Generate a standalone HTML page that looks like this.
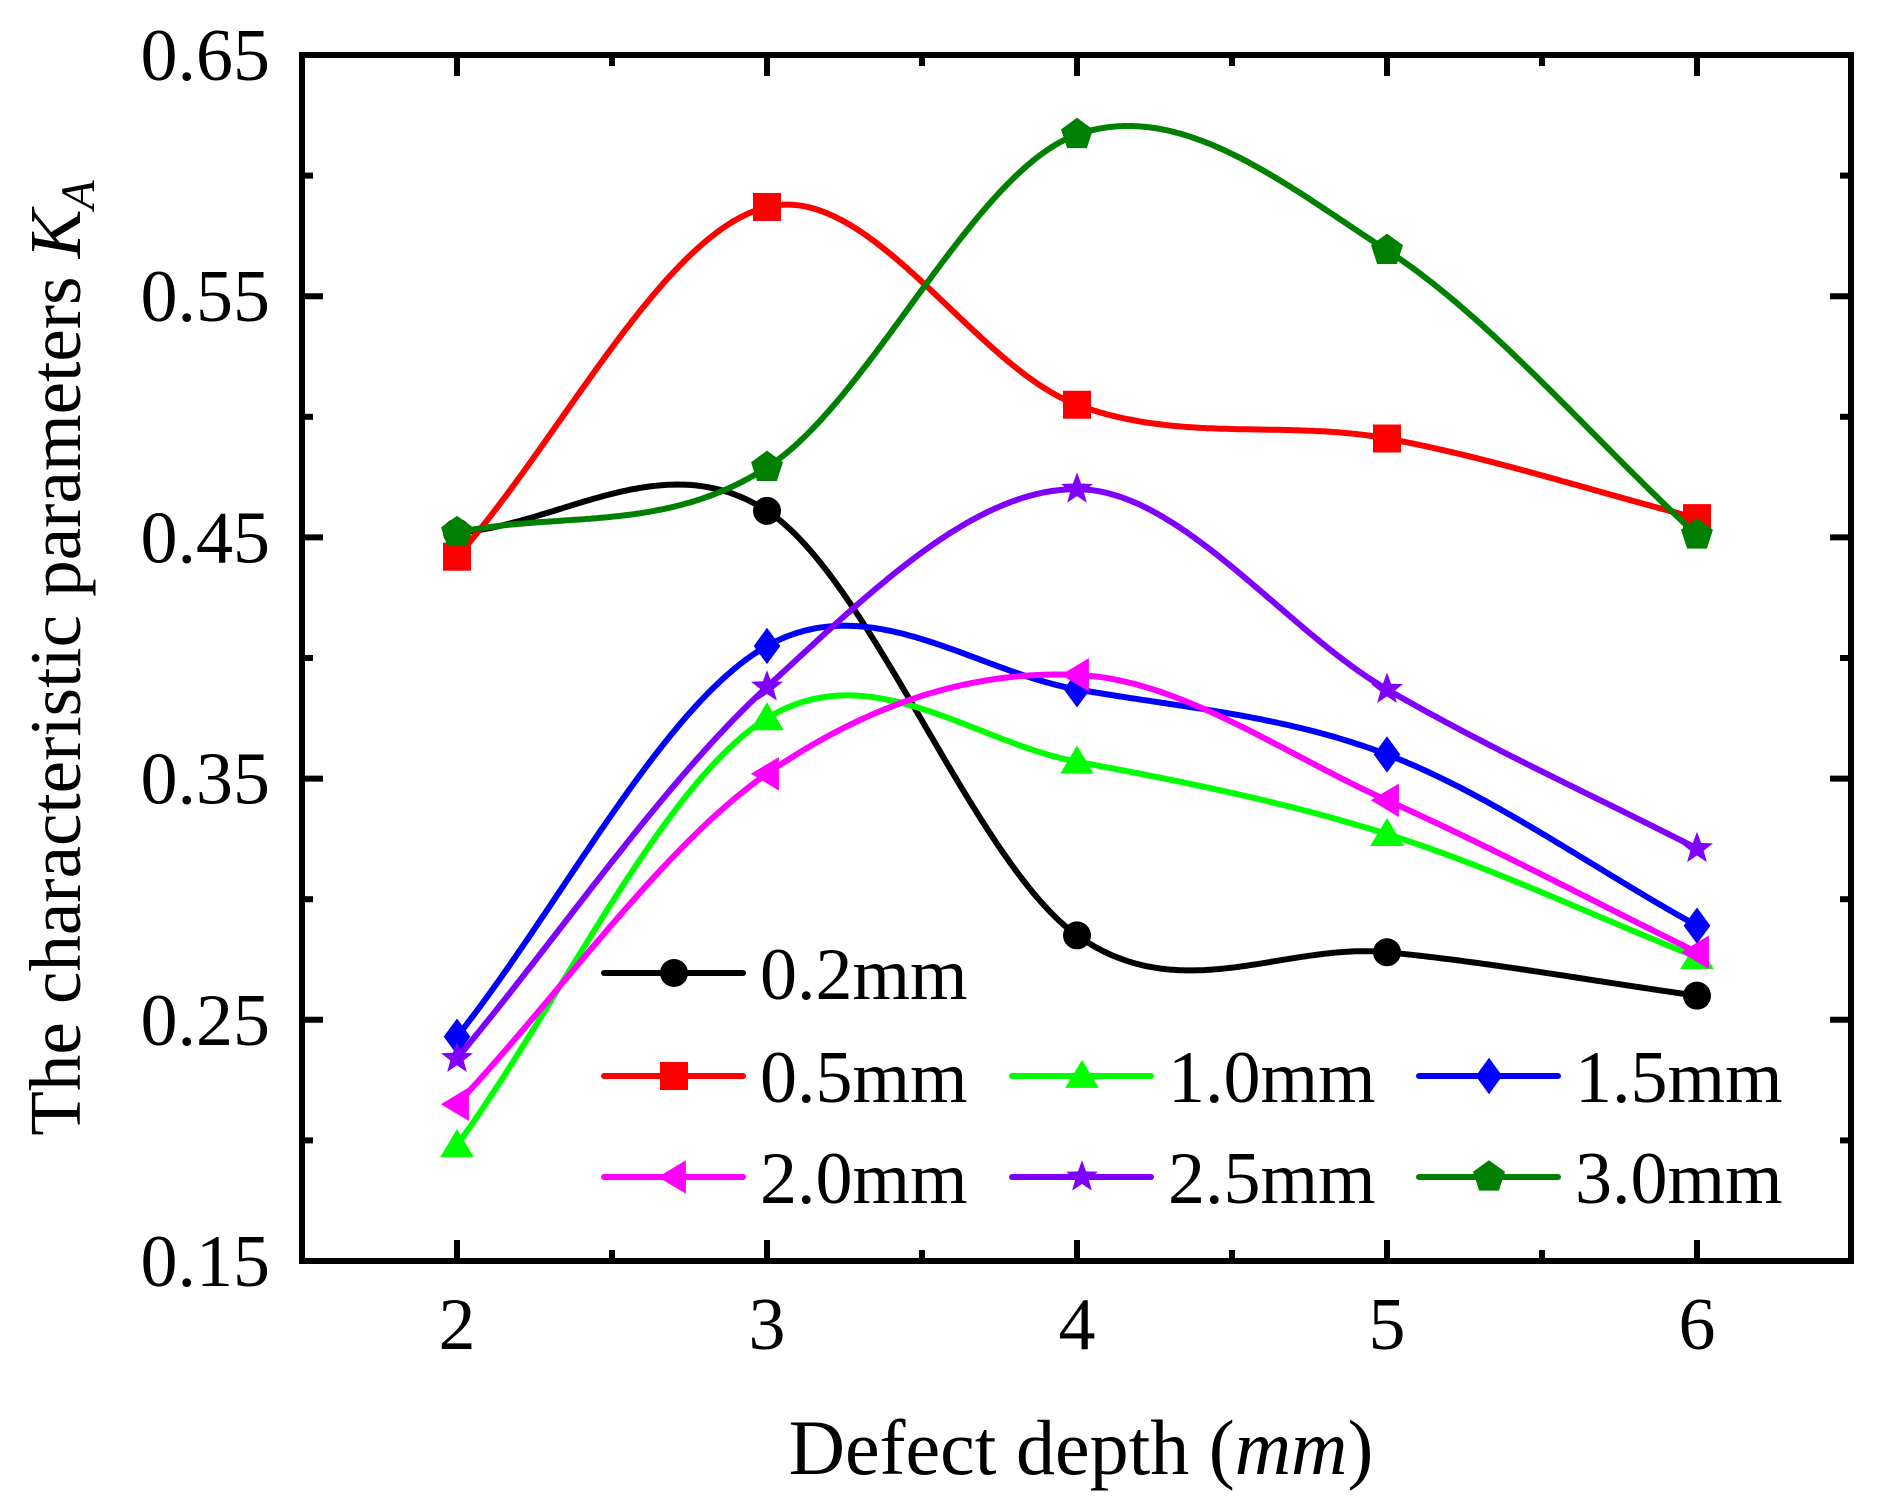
<!DOCTYPE html>
<html><head><meta charset="utf-8">
<style>
html,body{margin:0;padding:0;background:#fff;}
svg{display:block;font-family:"Liberation Serif","Times New Roman",serif;}
</style></head>
<body>
<svg id="chart" width="1885" height="1511" viewBox="0 0 1885 1511" xmlns="http://www.w3.org/2000/svg">
<g id="series"></g>
<g id="axes"></g>
<g id="legend"></g>
</svg>
<script>
const xCategories = [2, 3, 4, 5, 6];
const yTicks = [0.15, 0.25, 0.35, 0.45, 0.55, 0.65];
const yMinorTicks = [0.20, 0.30, 0.40, 0.50, 0.60];
const xMinorTicks = [2.5, 3.5, 4.5, 5.5];
const seriesNames = ["0.2mm","0.5mm","1.0mm","1.5mm","2.0mm","2.5mm","3.0mm"];
const s02 = [0.452, 0.461, 0.285, 0.278, 0.260];
const s05 = [0.442, 0.587, 0.505, 0.491, 0.458];
const s10 = [0.198, 0.375, 0.357, 0.327, 0.276];
const s15 = [0.243, 0.405, 0.387, 0.360, 0.289];
const s20 = [0.215, 0.352, 0.393, 0.341, 0.278];
const s25 = [0.234, 0.388, 0.470, 0.387, 0.321];
const s30 = [0.452, 0.479, 0.617, 0.569, 0.451];
const seriesValues = [s02, s05, s10, s15, s20, s25, s30];

const colors = ["#000000","#ff0000","#00ff00","#0000ff","#ff00ff","#8000ff","#008000"];
const markers = ["circle","square","triangle","diamond","ltri","star","pentagon"];
const NS="http://www.w3.org/2000/svg";
const L=302, R=1851, T=55, B=1261;
const X0=457, XU=310;
function xs(v){return X0+(v-2)*XU;}
function ys(v){return T+(0.65-v)/0.5*(B-T);}
function el(tag,attrs,parent){const e=document.createElementNS(NS,tag);for(const k in attrs)e.setAttribute(k,attrs[k]);parent.appendChild(e);return e;}

function spline(xv,yv){
  const n=xv.length,m=[];
  for(let i=0;i<n;i++){
    if(i===0)m.push((yv[1]-yv[0])/(xv[1]-xv[0]));
    else if(i===n-1)m.push((yv[n-1]-yv[n-2])/(xv[n-1]-xv[n-2]));
    else m.push((yv[i+1]-yv[i-1])/(xv[i+1]-xv[i-1]));
  }
  return function(x){
    let i=0;for(let k=0;k<n-1;k++){if(x>=xv[k]&&x<=xv[k+1]){i=k;break;}}
    const h=xv[i+1]-xv[i],t=(x-xv[i])/h,t2=t*t,t3=t2*t;
    return (2*t3-3*t2+1)*yv[i]+(t3-2*t2+t)*h*m[i]+(-2*t3+3*t2)*yv[i+1]+(t3-t2)*h*m[i+1];
  };
}

function drawMarker(type,cx,cy,color,parent,name){
  const s=14;let e;
  if(type==="circle")e=el("circle",{cx:cx,cy:cy,r:s},parent);
  else if(type==="square")e=el("rect",{x:cx-s,y:cy-s,width:2*s,height:2*s},parent);
  else{
    let pts=[];
    if(type==="triangle")pts=[[0,-s*1.15],[s*1.2,s*0.85],[-s*1.2,s*0.85]];
    else if(type==="diamond")pts=[[0,-s*1.3],[s*0.95,0],[0,s*1.3],[-s*0.95,0]];
    else if(type==="ltri")pts=[[-s*1.15,0],[s*0.85,-s*1.2],[s*0.85,s*1.2]];
    else if(type==="star"){for(let k=0;k<10;k++){const r=k%2?s*0.5:s*1.2,an=-Math.PI/2+k*Math.PI/5;pts.push([r*Math.cos(an),r*Math.sin(an)]);}}
    else if(type==="pentagon"){for(let k=0;k<5;k++){const an=-Math.PI/2+k*2*Math.PI/5;pts.push([s*1.2*Math.cos(an),s*1.2*Math.sin(an)]);}}
    e=el("polygon",{points:pts.map(p=>(cx+p[0])+","+(cy+p[1])).join(" ")},parent);
  }
  e.setAttribute("fill",color);
  
  
  return e;
}

const sg=document.getElementById("series");
seriesValues.forEach((vals,si)=>{
  const g=el("g",{},sg);
  
  
  const f=spline(xCategories,vals);
  let d="";
  for(let x=xCategories[0];x<=xCategories[xCategories.length-1]+1e-9;x+=0.01){d+=(d?"L":"M")+xs(x).toFixed(1)+","+ys(f(x)).toFixed(1);}
  const p=el("path",{d:d,fill:"none",stroke:colors[si],"stroke-width":6,"stroke-linejoin":"round"},g);
  
  
  vals.forEach((v,i)=>drawMarker(markers[si],xs(xCategories[i]),ys(v),colors[si],g,'point-'+seriesNames[si].replace('.','-')+'-x'+xCategories[i]));
});

const ag=document.getElementById("axes");
const frame=el("rect",{x:L,y:T,width:R-L,height:B-T,fill:"none",stroke:"#000","stroke-width":6},ag);


const MJ=21,MN=11;
xCategories.forEach(v=>{
  const x=xs(v);
  el("line",{x1:x,y1:B,x2:x,y2:B-MJ,stroke:"#000","stroke-width":6},ag);
  el("line",{x1:x,y1:T,x2:x,y2:T+MJ,stroke:"#000","stroke-width":6},ag);
  const t=el("text",{x:x,y:B+88,"font-size":74,"text-anchor":"middle"},ag);
  t.textContent=v;
  
  
});
xMinorTicks.forEach(v=>{
  const x=xs(v);
  el("line",{x1:x,y1:B,x2:x,y2:B-MN,stroke:"#000","stroke-width":6},ag);
  el("line",{x1:x,y1:T,x2:x,y2:T+MN,stroke:"#000","stroke-width":6},ag);
});
yTicks.forEach(v=>{
  const y=ys(v);
  el("line",{x1:L,y1:y,x2:L+MJ,y2:y,stroke:"#000","stroke-width":6},ag);
  el("line",{x1:R,y1:y,x2:R-MJ,y2:y,stroke:"#000","stroke-width":6},ag);
  const t=el("text",{x:270,y:y+25,"font-size":74,"text-anchor":"end"},ag);
  t.textContent=v.toFixed(2);
  
  
});
yMinorTicks.forEach(v=>{
  const y=ys(v);
  el("line",{x1:L,y1:y,x2:L+MN,y2:y,stroke:"#000","stroke-width":6},ag);
  el("line",{x1:R,y1:y,x2:R-MN,y2:y,stroke:"#000","stroke-width":6},ag);
});
const xt=el("text",{x:1081,y:1474,"font-size":78,"text-anchor":"middle"},ag);
xt.innerHTML='Defect depth (<tspan font-style="italic">mm</tspan>)';


const yt=el("text",{x:0,y:0,"font-size":73,"text-anchor":"middle",transform:"translate(80,658) rotate(-90)"},ag);
yt.innerHTML='The characteristic parameters <tspan font-style="italic">K</tspan><tspan font-style="italic" font-size="48" dy="14">A</tspan>';



const lg=document.getElementById("legend");
const rowsY=[973,1076,1177];
const colX=[604,1012,1419];
const legendPos=[[0,0],[1,0],[1,1],[1,2],[2,0],[2,1],[2,2]];
seriesNames.forEach((nm,i)=>{
  const g=el("g",{},lg);
  
  
  const y=rowsY[legendPos[i][0]],x=colX[legendPos[i][1]];
  el("line",{x1:x,y1:y,x2:x+139,y2:y,stroke:colors[i],"stroke-width":6,"stroke-linecap":"round"},g);
  drawMarker(markers[i],x+70,y,colors[i],g,'legend-marker-'+nm.replace('.','-'));
  const t=el("text",{x:x+156,y:y+26,"font-size":74},g);
  t.textContent=nm;
  
  
});
</script>
</body></html>
